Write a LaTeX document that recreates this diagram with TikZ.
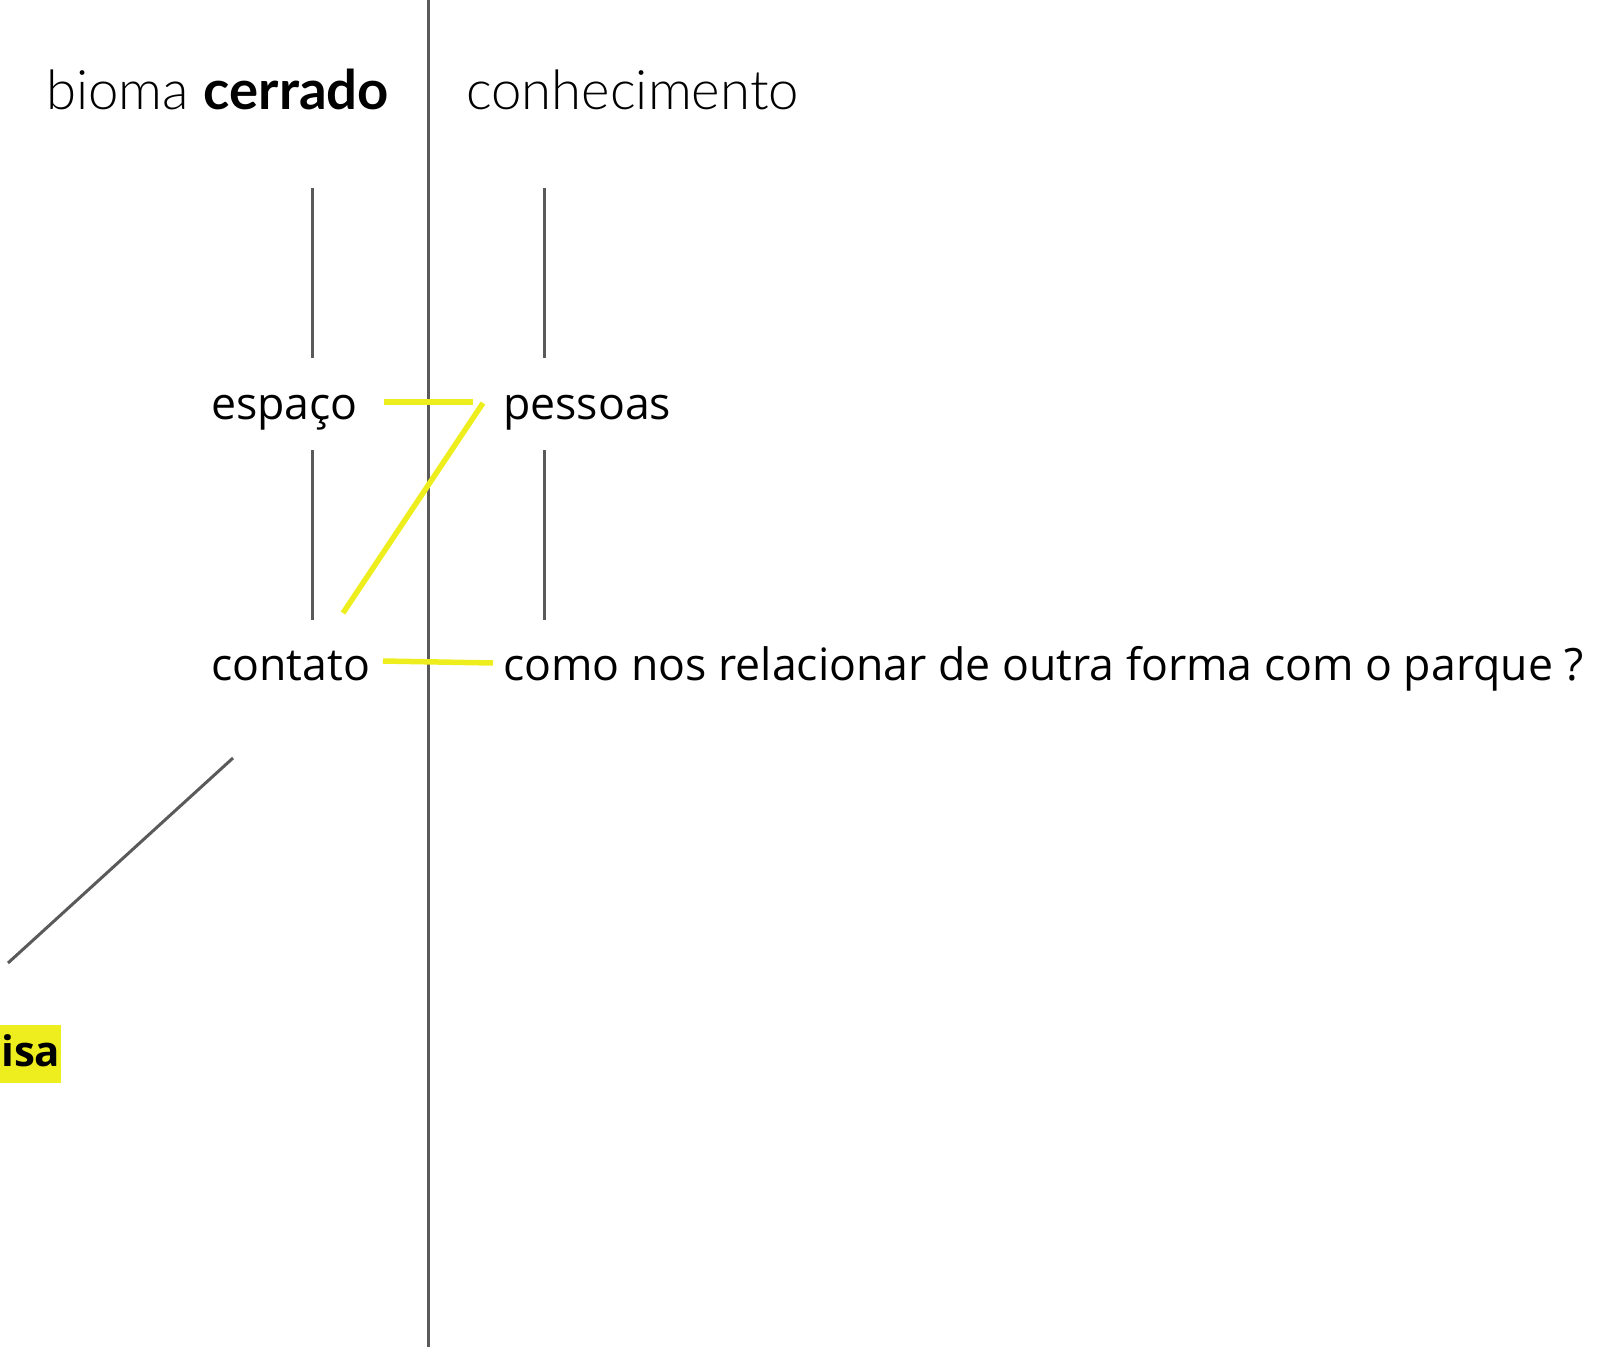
\documentclass[tikz,border=0pt]{standalone}
\usepackage{fontspec}
\setmainfont{Open Sans}
\newfontfamily\headfont{Lato}[UprightFont={* Light}, BoldFont={* Bold}]
\usetikzlibrary{positioning}
\definecolor{linegray}{HTML}{5A5A5A}
\definecolor{marker}{HTML}{EEEE1E}
\tikzset{
    x=1pt, y=-1pt, % one unit is one pixel of the sketch, y runs down
    every node/.style={inner sep=0pt, anchor=base west},
    head/.style={font=\headfont\fontsize{54.5}{62}\selectfont},
    word/.style={font=\fontsize{44.6}{52}\selectfont},
    rule/.style={draw=linegray, line width=3pt},
    link/.style={draw=marker, line width=5.5pt},
}

\begin{document}
\begin{tikzpicture}
    \useasboundingbox (0,0) rectangle (1598,1349);
    % headings
    \node[head] (bioma) at (46,109) {bioma \textbf{cerrado}};
    \node[head] (conhec) at (466,109) {conhecimento};
    % words
    \node[word] (espaco) at (211,419) {espaço};
    \node[word] (pessoas) at (503,419) {pessoas};
    \node[word] (contato) at (211,680) {contato};
    \node[word] (pergunta) at (503,680) {como nos relacionar de outra forma com o parque ?};
    \node[font=\fontsize{42}{50}\selectfont\bfseries, fill=marker, anchor=north west,
          inner xsep=1pt, minimum width=60pt, minimum height=58pt, text depth=8pt] (pesquisa) at (0,1025) {isa};
    % grey rules
    \coordinate (a1) at (312,188); \coordinate (a2) at (312,358);
    \coordinate (a3) at (312,450); \coordinate (a4) at (312,620);
    \coordinate (b1) at (544,188); \coordinate (b2) at (544,358);
    \coordinate (b3) at (544,450); \coordinate (b4) at (544,620);
    \coordinate (top) at (428,0); \coordinate (bottom) at (428,1347);
    \coordinate (d1) at (233,758); \coordinate (d2) at (8,963);
    \draw[rule] (top) -- (bottom);
    \draw[rule] (a1) -- (a2) (a3) -- (a4);
    \draw[rule] (b1) -- (b2) (b3) -- (b4);
    \draw[rule] (d1) -- (d2);
    % yellow links
    \draw[link] (espaco.base east -| 384,0) ++(0,-17) -- ([xshift=-30pt,yshift=17pt]pessoas.base west);
    \draw[link] ([xshift=-20pt,yshift=16pt]pessoas.base west) -- ([xshift=132pt,yshift=67pt]contato.base west);
    \draw[link] (contato.base east -| 383,0) ++(0,-19) -- ([xshift=-10pt,yshift=17pt]pergunta.base west);
\end{tikzpicture}
\end{document}
